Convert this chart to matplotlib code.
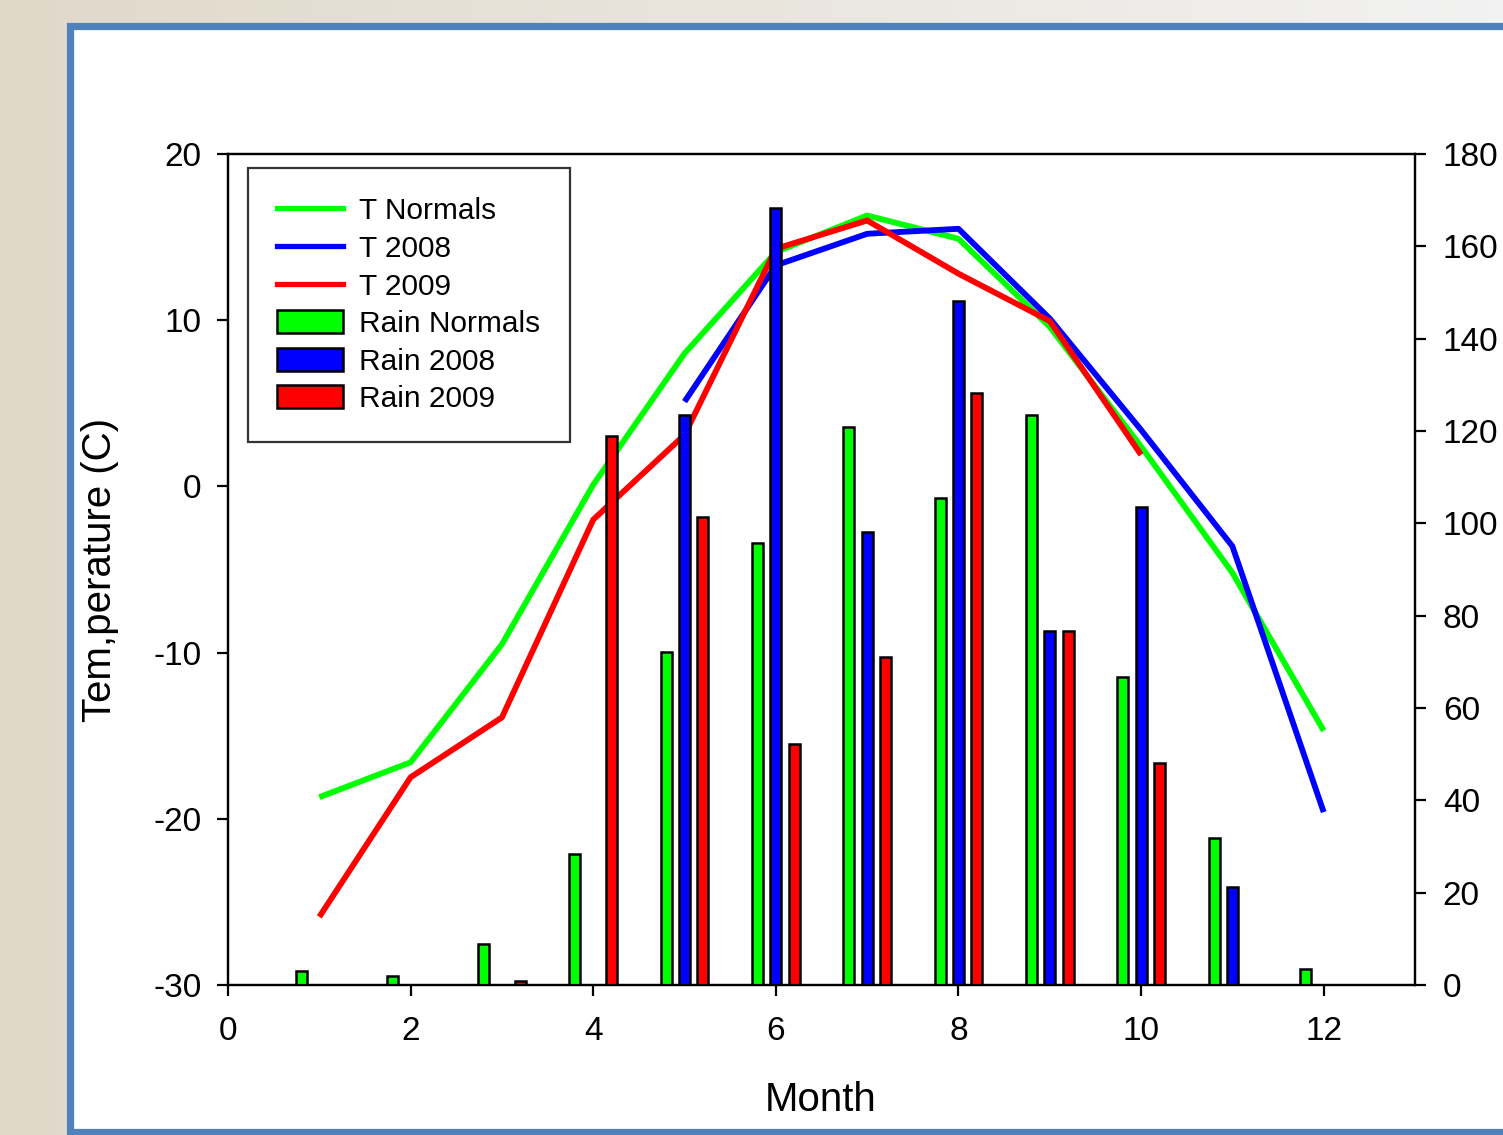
import numpy as np
import matplotlib
matplotlib.use("Agg")
import matplotlib.pyplot as plt
from matplotlib.patches import Rectangle, Patch
from matplotlib.lines import Line2D

plt.rcParams['font.family'] = ['Liberation Sans', 'DejaVu Sans']
plt.rcParams['axes.unicode_minus'] = False

# monthly values
months = np.arange(1, 13)
t_normals = [-18.7, -16.6, -9.5, 0.1, 8.0, 14.1, 16.3, 14.9, 9.6, 2.4, -5.2, -14.7]
t_2008_months = np.arange(5, 13)
t_2008 = [5.1, 13.3, 15.2, 15.5, 10.1, 3.4, -3.6, -19.6]
t_2009_months = np.arange(1, 11)
t_2009 = [-25.9, -17.5, -13.9, -2.0, 3.1, 14.3, 16.0, 12.8, 9.95, 1.9]

rain_normals = [3.0, 2.0, 8.9, 28.4, 72.1, 95.7, 120.9, 105.5, 123.5, 66.7, 31.8, 3.5]
rain_2008_months = np.arange(5, 12)
rain_2008 = [123.5, 168.3, 98.1, 148.1, 76.7, 103.5, 21.2]
rain_2009_months = np.arange(3, 11)
rain_2009 = [0.9, 118.9, 101.4, 52.2, 71.0, 128.2, 76.7, 48.1]

GREEN = '#00FF00'
BLUE = '#0000FF'
RED = '#FF0000'

fig = plt.figure(figsize=(15.03, 11.35), dpi=100)

# blurry backdrop + framed white panel
bg = fig.add_axes([0, 0, 1, 1], zorder=-10)
grad = np.linspace(0, 1, 300)
img = np.zeros((200, 300, 3))
left_col = np.array([0.88, 0.85, 0.79])
right_col = np.array([0.95, 0.95, 0.95])
for i, g in enumerate(grad):
    img[:, i] = left_col * (1 - g) + right_col * g
bg.imshow(img, aspect='auto', extent=[0, 1, 0, 1])
bg.set_xlim(0, 1)
bg.set_ylim(0, 1)
bg.axis('off')
bg.add_patch(Rectangle((69.5 / 1503, 3.5 / 1135), 1.0, (1131.5 - 3.5 - 22) / 1135,
                       facecolor='white', edgecolor='#4F81BD', linewidth=5.2,
                       transform=bg.transAxes))

ax = fig.add_axes([228 / 1503, 150 / 1135, (1415 - 228) / 1503, (985 - 154) / 1135])
ax.set_facecolor('none')

lw = 4.2
ax.plot(months, t_normals, color=GREEN, lw=lw, solid_capstyle='butt')
ax.plot(t_2008_months, t_2008, color=BLUE, lw=lw, solid_capstyle='butt')
ax.plot(t_2009_months, t_2009, color=RED, lw=lw, solid_capstyle='butt')

ax.set_xlim(0, 13)
ax.set_ylim(-30, 20)
ax.set_xticks([0, 2, 4, 6, 8, 10, 12])
ax.set_yticks([-30, -20, -10, 0, 10, 20])

ax2 = ax.twinx()
w = 0.12
bar_kw = dict(width=w, edgecolor='black', linewidth=1.8)
ax2.bar(months - 0.2, rain_normals, color=GREEN, **bar_kw)
ax2.bar(rain_2008_months, rain_2008, color=BLUE, **bar_kw)
ax2.bar(rain_2009_months + 0.2, rain_2009, color=RED, **bar_kw)
ax2.set_ylim(0, 180)
ax2.set_yticks(np.arange(0, 181, 20))

fs = 24
for a in (ax, ax2):
    for s in a.spines.values():
        s.set_linewidth(1.6)
    a.tick_params(direction='out', length=8, width=1.6, labelsize=fs)
ax.tick_params(axis='x', top=False, pad=14)
ax.tick_params(axis='y', pad=11)
ax2.tick_params(axis='y', pad=12)

ax.set_xlabel('Month', fontsize=29)
ax.xaxis.label.set_va('center')
ax.xaxis.set_label_coords(0.4996, -0.1384)
ax.set_ylabel('Tem,perature (C)', fontsize=29)
ax.yaxis.label.set_va('center')
ax.yaxis.set_label_coords(-0.1078, 0.499)

handles = [
    Line2D([], [], color=GREEN, lw=3.8),
    Line2D([], [], color=BLUE, lw=3.8),
    Line2D([], [], color=RED, lw=3.8),
    Patch(facecolor=GREEN, edgecolor='black', linewidth=1.8),
    Patch(facecolor=BLUE, edgecolor='black', linewidth=1.8),
    Patch(facecolor=RED, edgecolor='black', linewidth=1.8),
]
labels = ['T Normals', 'T 2008', 'T 2009', 'Rain Normals', 'Rain 2008', 'Rain 2009']
leg = ax2.legend(handles, labels, loc='upper left', bbox_to_anchor=(0.0168, 0.983),
                 fontsize=21.5, frameon=True, fancybox=False, edgecolor='black',
                 borderpad=0.98, labelspacing=0.32, handlelength=2.2, handleheight=0.8,
                 handletextpad=0.55, borderaxespad=0)
leg.get_frame().set_linewidth(1.6)

fig.savefig('out.png', dpi=100)
